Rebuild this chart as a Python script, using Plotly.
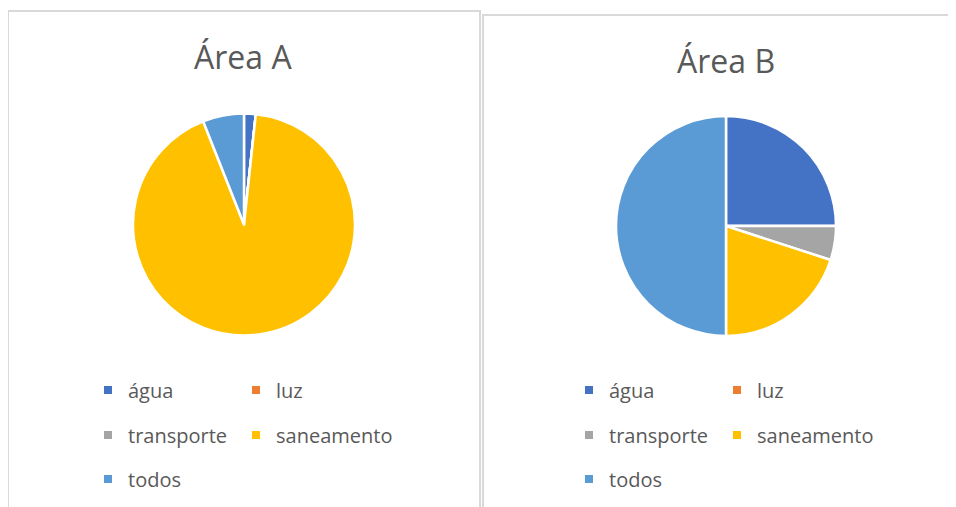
import plotly.graph_objects as go

# ---- data ----
categories = ["água", "luz", "transporte", "saneamento", "todos"]
colors = ["#4472C4", "#ED7D31", "#A5A5A5", "#FFC000", "#5B9BD5"]
area_a = [1.7, 0, 0, 92.3, 6.0]
area_b = [25, 0, 5, 20, 50]
titles = ["Área A", "Área B"]

# ---- layout constants (page pixels; the page body adds an 8px offset) ----
PAGE_W, PAGE_H = 956, 507
OFF = 8
W, H = PAGE_W - OFF, PAGE_H - OFF
FONT = "Open Sans"
TXT = "#595959"
pies = [(244, 224.5, 111), (726, 226, 110)]
title_pos = [(243, 57), (726, 60)]
legend_origin_x = [88, 569]
legend_rows_y = [390, 435, 479]
legend_rows = [[0, 1], [2, 3], [4]]
LEG_FS = 20


def fx(px):
    return (px - OFF) / W


def fy(py):
    return 1 - (py - OFF) / H


def px_domain(cx, cy, r):
    return dict(x=[fx(cx - r), fx(cx + r)], y=[fy(cy + r), fy(cy - r)])


fig = go.Figure()

for vals, (cx, cy, r) in zip([area_a, area_b], pies):
    fig.add_trace(go.Pie(
        labels=categories, values=vals,
        marker=dict(colors=colors, line=dict(color="white", width=2.5)),
        sort=False, direction="clockwise", rotation=0,
        textinfo="none", showlegend=False,
        domain=px_domain(cx, cy, r),
    ))

legends = {}
n = 0
for p in range(2):
    for ri, row in enumerate(legend_rows):
        n += 1
        lname = "legend" if n == 1 else f"legend{n}"
        for ci, k in enumerate(row):
            fig.add_trace(go.Scatter(
                x=[None], y=[None], mode="markers",
                marker=dict(symbol="square", size=8, color=colors[k]),
                name=categories[k], legend=lname, hoverinfo="skip",
                legendwidth=103 if ci == 0 else 140,
            ))
        h = max(LEG_FS * 1.3, 16) + 3
        legends[lname] = dict(
            orientation="h",
            x=fx(legend_origin_x[p]), xanchor="left",
            y=fy(legend_rows_y[ri] - 5 - h / 2), yanchor="top",
            font=dict(family=FONT, size=LEG_FS, color=TXT),
            bgcolor="rgba(0,0,0,0)", borderwidth=0,
        )

annotations = []
for t, (tx, ty) in zip(titles, title_pos):
    annotations.append(dict(
        text=t, x=fx(tx), y=fy(ty), xref="paper", yref="paper",
        xanchor="center", yanchor="middle", showarrow=False,
        font=dict(family=FONT, size=32, color=TXT),
    ))

shapes = [
    dict(type="rect", xref="paper", yref="paper",
         x0=fx(8), x1=fx(480), y0=-0.1, y1=fy(11),
         line=dict(color="#D9D9D9", width=2), fillcolor="rgba(0,0,0,0)", layer="below"),
    dict(type="rect", xref="paper", yref="paper",
         x0=fx(483), x1=1.1, y0=-0.1, y1=fy(15),
         line=dict(color="#D9D9D9", width=2), fillcolor="rgba(0,0,0,0)", layer="below"),
]

fig.update_layout(
    width=W, height=H,
    margin=dict(l=0, r=0, t=0, b=0),
    paper_bgcolor="white", plot_bgcolor="white",
    xaxis=dict(visible=False), yaxis=dict(visible=False),
    annotations=annotations, shapes=shapes,
    font=dict(family=FONT, color=TXT),
    **legends,
)

fig.write_html("out.html")
